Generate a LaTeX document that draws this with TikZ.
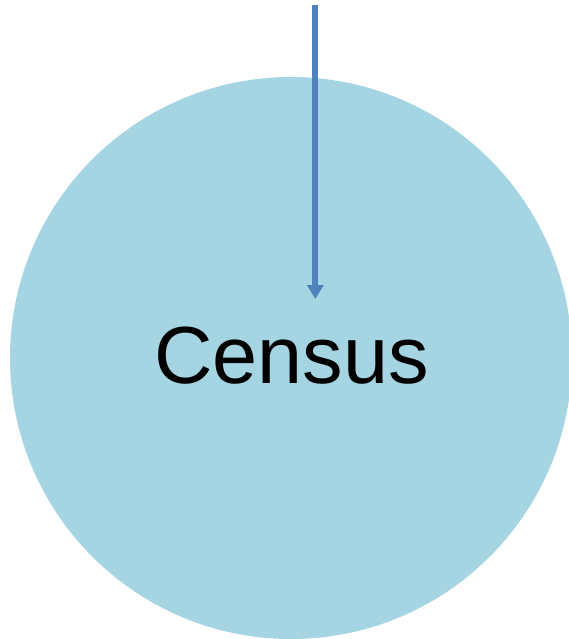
\documentclass[tikz,border=0pt]{standalone}
\usepackage{fontspec}
\setmainfont{Liberation Sans}
\usetikzlibrary{arrows.meta}
\definecolor{circfill}{RGB}{165,213,226}
\definecolor{arrowblue}{RGB}{79,129,189}
\tikzset{
  bigcircle/.style={circle, fill=circfill, draw=none, minimum size=562pt, inner sep=0pt},
  bigtext/.style={font=\fontsize{81}{97}\selectfont, text=black, inner sep=0pt},
  downarrow/.style={draw=arrowblue, line width=6pt, -{Triangle[length=14pt, width=16pt]}}
}
\begin{document}
\begin{tikzpicture}[x=1pt, y=-1pt]
  \useasboundingbox (0,0) rectangle (569,639);
  \clip (0,0) rectangle (569,639);
  \node[bigcircle] (census) at (291,358) {};
  \node[bigtext] (label) at (291.5,355.5) {Census};
  \coordinate (start) at (315.3,5);
  \coordinate (tip) at (315.3,299);
  \draw[downarrow] (start) -- (tip);
\end{tikzpicture}
\end{document}
